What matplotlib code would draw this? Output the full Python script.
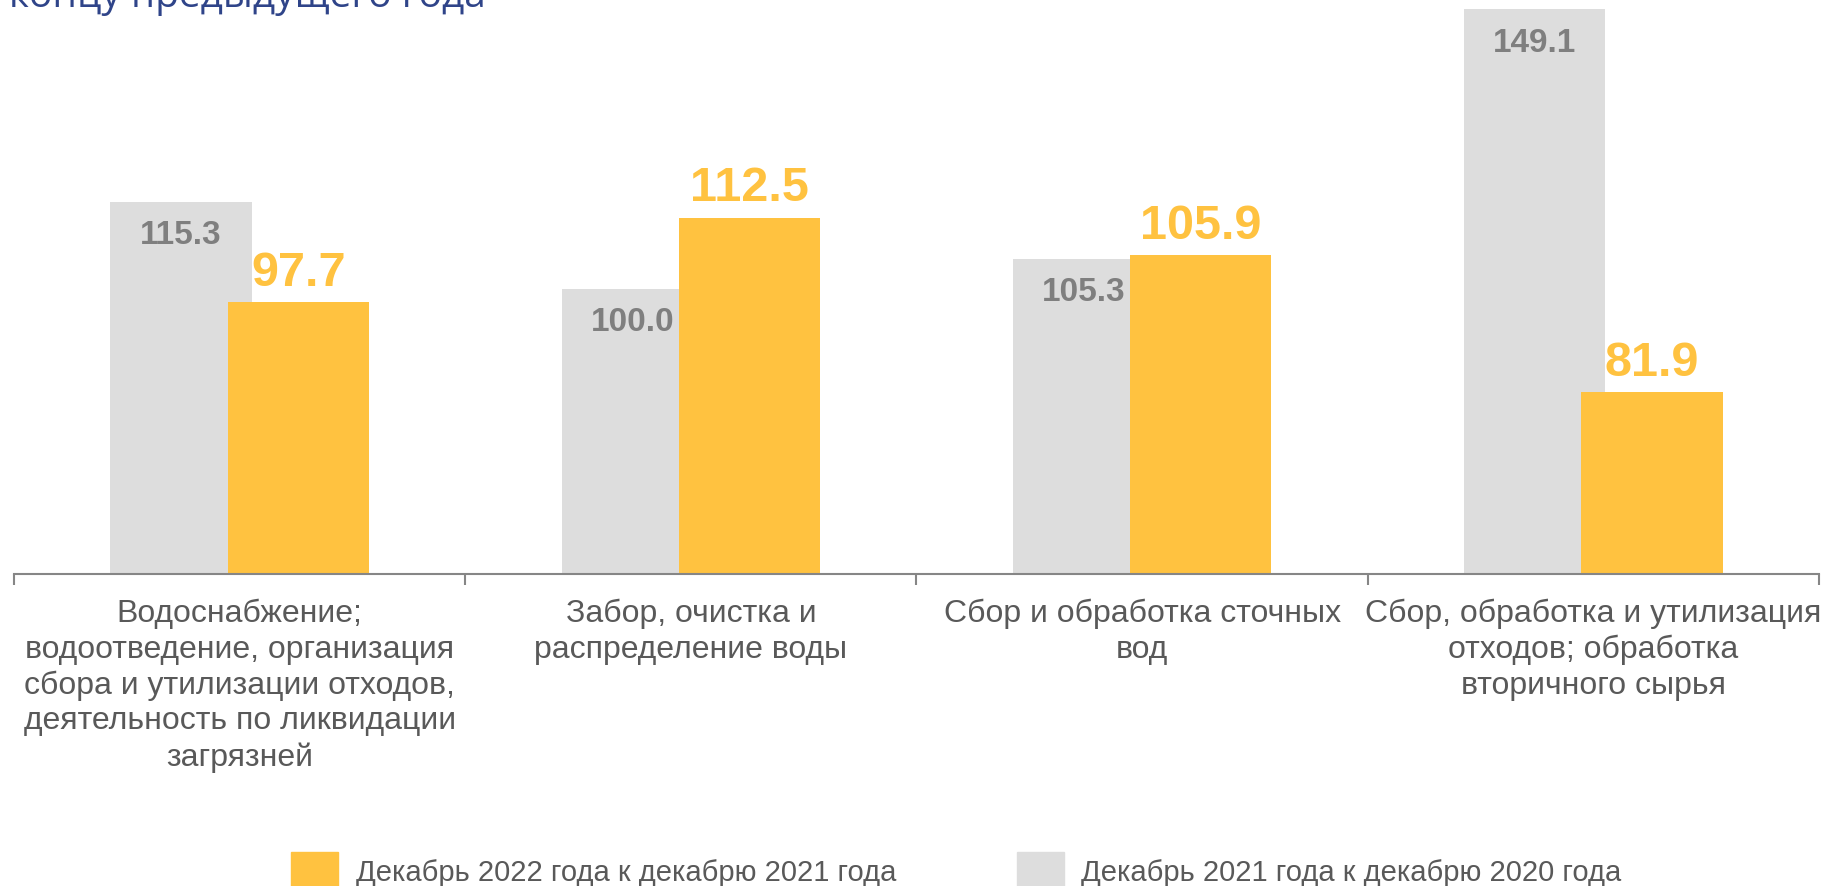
import numpy as np
import matplotlib
matplotlib.use('Agg')
import matplotlib.pyplot as plt
from matplotlib.patches import Patch

plt.rcParams['font.family'] = ['Liberation Sans', 'DejaVu Sans']

categories = [
    'Водоснабжение;\nводоотведение, организация\nсбора и утилизации отходов,\nдеятельность по ликвидации\nзагрязней',
    'Забор, очистка и\nраспределение воды',
    'Сбор и обработка сточных\nвод',
    'Сбор, обработка и утилизация\nотходов; обработка\nвторичного сырья',
]
dec2021 = [115.3, 100.0, 105.3, 149.1]
dec2022 = [97.7, 112.5, 105.9, 81.9]
label_2022 = 'Декабрь 2022 года к декабрю 2021 года'
label_2021 = 'Декабрь 2021 года к декабрю 2020 года'
title = 'в % к концу предыдущего года'

grey = '#DDDDDD'
orange = '#FFC240'

fig = plt.figure(figsize=(18.28, 8.87), dpi=100)
ax = fig.add_axes([0.0077, 0.352, 0.9873, 0.642])

x = np.arange(len(categories))
w = 0.313
off = 0.13
ax.bar(x - off, dec2021, w, color=grey, zorder=1)
ax.bar(x + off, dec2022, w, color=orange, zorder=2)

for i in range(len(categories)):
    ax.text(x[i] - off, dec2021[i] - 3.0, f'{dec2021[i]:.1f}', ha='center', va='top',
            fontsize=24, fontweight='bold', color='#7F7F7F', zorder=3)
    ax.text(x[i] + off, dec2022[i] + 1.3, f'{dec2022[i]:.1f}', ha='center', va='bottom',
            fontsize=35, fontweight='bold', color=orange, zorder=3)

ax.set_ylim(50, 150)
ax.set_xlim(-0.5, len(categories) - 0.5)
ax.set_yticks([])
for s in ['top', 'right', 'left']:
    ax.spines[s].set_visible(False)
ax.spines['bottom'].set_color('#868686')
ax.spines['bottom'].set_linewidth(1.5)

ax.set_xticks(np.arange(-0.5, len(categories), 1.0))
ax.set_xticklabels([])
ax.tick_params(axis='x', length=8, width=1.5, color='#868686', direction='out')
ax.set_xticks(x, minor=True)
ax.set_xticklabels(categories, minor=True, fontsize=23, color='#595959', linespacing=1.25)
ax.tick_params(axis='x', which='minor', length=0, pad=17)

fig.text(0.266, 0.992, title, ha='right', va='baseline', fontsize=28,
         color='#2F4489', family=['Open Sans', 'DejaVu Sans'])

handles = [Patch(color=orange, label=label_2022), Patch(color=grey, label=label_2021)]
fig.legend(handles=handles, loc='center', bbox_to_anchor=(0.5232, 0.017), ncol=2,
           frameon=False, fontsize=21, labelcolor='#595959', handlelength=1.6,
           handleheight=1.6, handletextpad=0.6, columnspacing=4.15)

fig.savefig('out.png', dpi=100)
